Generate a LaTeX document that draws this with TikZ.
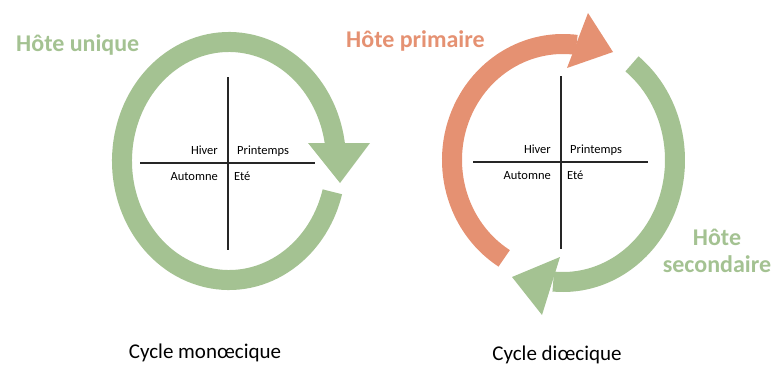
\documentclass[tikz,border=0pt]{standalone}
\usepackage{fontspec}
\setmainfont{Carlito}
\usetikzlibrary{calc}
\definecolor{hostgreen}{RGB}{164,194,146}
\definecolor{hostorange}{RGB}{229,145,114}

\begin{document}
\begin{tikzpicture}
  [x=1pt,y=1pt,
   ring/.style={line width=20pt},
   axis/.style={line width=1.1pt,black!85},
   season/.style={inner sep=0pt,font=\fontsize{12.5}{14}\selectfont},
   host/.style={inner sep=0pt,align=center,font=\fontsize{24}{27}\selectfont\bfseries},
   caption/.style={inner sep=0pt,font=\fontsize{21}{24}\selectfont}]

  \useasboundingbox (0,0) rectangle (776,365);

  % cycle monoecique : un seul anneau
  \coordinate (mono) at (229,204);
  \draw[ring,hostgreen] ($(mono)+(-15:107 and 119)$)
    arc[start angle=-15,end angle=-352,x radius=107,y radius=119];
  \fill[hostgreen] ($(mono)+(79,18)$) -- ($(mono)+(141,18)$)
    -- ($(mono)+(111,-22)$) -- cycle;

  % cycle dioecique : deux demi-anneaux
  \coordinate (dio) at (563,205);
  \draw[ring,hostorange] ($(dio)+(238:111 and 116)$)
    arc[start angle=238,end angle=83,x radius=111,y radius=116];
  \fill[hostorange] ($(dio)+(25,147)$) -- ($(dio)+(50,108)$)
    -- ($(dio)+(4,92)$) -- cycle;
  \draw[ring,hostgreen] ($(dio)+(52:112 and 122)$)
    arc[start angle=52,end angle=-95,x radius=112,y radius=122];
  \fill[hostgreen] ($(dio)+(-3,-97)$) -- ($(dio)+(-51,-117)$)
    -- ($(dio)+(-21,-155)$) -- cycle;

  % les saisons
  \coordinate (mono-c) at (228,202);
  \coordinate (dio-c) at (561,203);
  \foreach \c in {mono-c,dio-c}{
    \draw[axis] ($(\c)+(-88,0)$) -- ($(\c)+(87,0)$);
    \draw[axis] ($(\c)+(0,86)$) -- ($(\c)+(0,-87)$);
    \node[season,anchor=base east] (hiver-\c) at ($(\c)+(-10,9)$) {Hiver};
    \node[season,anchor=base west] (printemps-\c) at ($(\c)+(9,9)$) {Printemps};
    \node[season,anchor=base east] (automne-\c) at ($(\c)+(-10,-17)$) {Automne};
    \node[season,anchor=base west] (ete-\c) at ($(\c)+(6,-17)$) {Eté};
  }

  % les hotes
  \node[host,hostgreen,anchor=base west] (unique) at (16,313) {Hôte unique};
  \node[host,hostorange,anchor=base west] (primaire) at (346,317) {Hôte primaire};
  \node[host,hostgreen,anchor=base] (secondaire) at (717,93) {Hôte\\secondaire};

  \node[caption,anchor=base] (mono-t) at (205,7) {Cycle monœcique};
  \node[caption,anchor=base] (dio-t) at (557,5) {Cycle diœcique};
\end{tikzpicture}
\end{document}
